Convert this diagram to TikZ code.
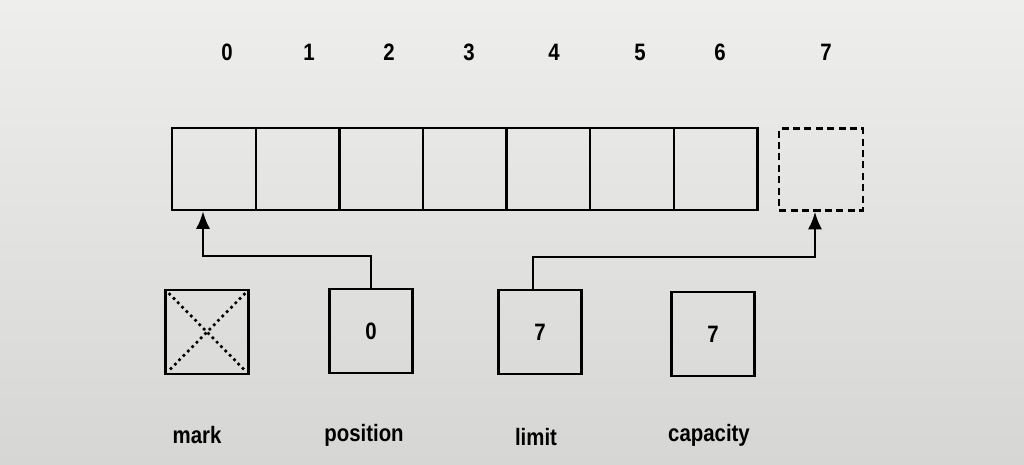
\documentclass[tikz,border=0pt]{standalone}
\usepackage{fontspec}
\newfontfamily\diagfont{Liberation Sans}[FakeStretch=0.86]
\usetikzlibrary{positioning,arrows.meta}

\definecolor{pagetop}{RGB}{238,238,236}
\definecolor{pagebot}{RGB}{214,214,212}

\begin{document}
\begin{tikzpicture}[x=0.02cm, y=-0.02cm,
	cell/.style={draw, line width=1.4pt, minimum width=1.672cm, minimum height=1.64cm, inner sep=0pt},
	valbox/.style={draw, line width=1.4pt, minimum width=1.66cm, minimum height=1.68cm, inner sep=0pt, font=\diagfont\bfseries\fontsize{13.5}{15}\selectfont},
	idx/.style={font=\diagfont\bfseries\fontsize{13.5}{15}\selectfont},
	lbl/.style={font=\diagfont\bfseries\fontsize{13.5}{15}\selectfont},
	conn/.style={line width=1.4pt, -{Latex[length=10pt,width=8pt]}}]
	\fill[top color=pagetop, bottom color=pagebot] (0,0) rectangle (1024,465);
	\useasboundingbox (0,0) rectangle (1024,465);
	% buffer cells
	\foreach \i in {0,...,6}
		\node[cell] (c\i) at ({214+83.6*\i},169) {};
	\node[cell, dash pattern=on 4pt off 2.5pt] (c7) at (821,169.5) {};
	\foreach \i/\x in {0/227,1/309,2/389,3/469,4/554,5/640,6/720,7/826}
		\node[idx] (n\i) at (\x,52) {\i};
	% the four attributes
	\node[valbox] (mark) at (207,332) {};
	\node[valbox] (position) at (371,331) {0};
	\node[valbox] (limit) at (540,332) {7};
	\node[valbox] (capacity) at (713,334) {7};
	\draw[dotted, line width=1.5pt] ([xshift=2.5pt,yshift=-2.5pt]mark.north west) -- ([xshift=-2.5pt,yshift=2.5pt]mark.south east);
	\draw[dotted, line width=1.5pt] ([xshift=-2.5pt,yshift=-2.5pt]mark.north east) -- ([xshift=2.5pt,yshift=2.5pt]mark.south west);
	\node[lbl] (lmark) at (197,435) {mark};
	\node[lbl] (lposition) at (364,435) {position};
	\node[lbl] (llimit) at (536,437) {limit};
	\node[lbl] (lcapacity) at (709,435) {capacity};
	% pointers
	\coordinate (ptip) at ([xshift=-0.22cm]c0.south);
	\coordinate (ltip) at ([xshift=-0.12cm]c7.south);
	\draw[conn] (position.north) -- ++(0,-32) -| (ptip);
	\draw[conn] ([xshift=-0.14cm]limit.north) -- ++(0,-32) -| (ltip);
\end{tikzpicture}
\end{document}
